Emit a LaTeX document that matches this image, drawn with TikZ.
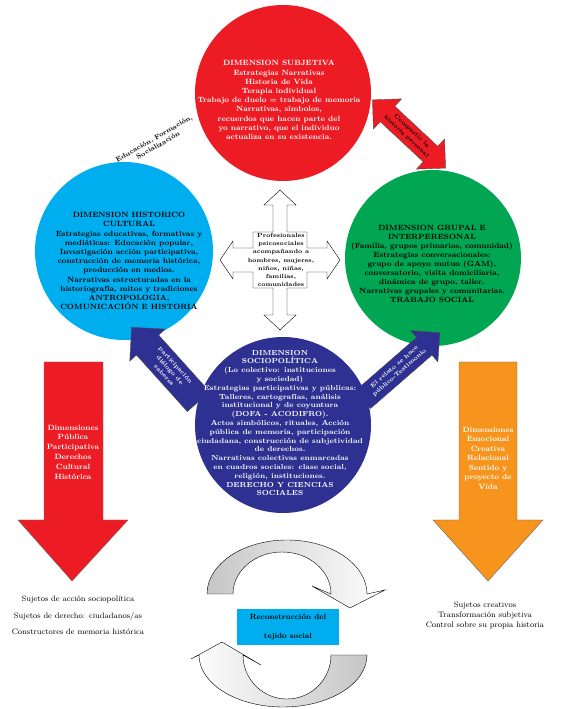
\documentclass[tikz,border=0pt]{standalone}
\usepackage{tikz}
\usetikzlibrary{positioning,shapes.arrows}
\definecolor{dimred}{RGB}{237,28,36}
\definecolor{dimcyan}{RGB}{0,174,239}
\definecolor{dimgreen}{RGB}{0,166,81}
\definecolor{dimnavy}{RGB}{46,49,146}
\definecolor{dimorange}{RGB}{247,148,29}
\newcommand{\dimfont}[2]{\fontsize{#1}{#2}\selectfont\bfseries}

\begin{document}
\begin{tikzpicture}[x=1pt, y=1pt,
  dimcircle/.style={circle, inner sep=0pt, minimum size=#1},
  dimlabel/.style={align=center, inner sep=0pt},
  bigarrow/.style={draw=black!60, line width=0.4pt},
  flowarrow/.style={draw=black, line width=0.4pt},
  linkarrow/.style={draw=black!70, line width=0.4pt, align=center, inner xsep=1pt, inner ysep=5pt}]
  \useasboundingbox (0,0) rectangle (560,709);

  % Circles
  \node[dimcircle=176, fill=dimred] (subj) at (283,616) {};
  \node[dimcircle=178, fill=dimcyan] (hist) at (124,458) {};
  \node[dimcircle=176, fill=dimgreen] (grup) at (433,451) {};

  % Links between dimensions (tails behind the sociopolitical circle)
  \node[linkarrow, single arrow, fill=dimnavy, text=white, rotate=-48, shape border rotate=180,
        minimum height=100, single arrow head extend=9, font={\dimfont{6}{7.6}}]
        (partlink) at (170,339) {participación\\diálogo de\\saberes};
  \node[linkarrow, single arrow, fill=dimnavy, text=white, rotate=41,
        minimum height=102, single arrow head extend=9, font={\dimfont{6}{7.6}}]
        (rellink) at (397,339) {El relato se hace\\público-Testimonio};

  \node[dimcircle=176, fill=dimnavy] (socio) at (283,284) {};

  % Circle texts
  \node[dimlabel, text=white, font={\dimfont{7.6}{9.2}}] (subjtext) at (279,609) {%
    DIMENSION SUBJETIVA\\Estrategias Narrativas\\Historia de Vida\\Terapia individual\\
    Trabajo de duelo = trabajo de memoria\\Narrativas, símbolos,\\recuerdos que hacen parte del\\
    yo narrativo, que el individuo\\actualiza en su existencia.};
  \node[dimlabel, font={\dimfont{7.6}{9.2}}] (histtext) at (129,448) {%
    DIMENSION HISTORICO\\CULTURAL\\Estrategias educativas, formativas y\\
    mediáticas: Educación popular,\\Investigación acción participativa,\\
    construcción de memoria histórica,\\producción en medios.\\Narrativas estructuradas en la\\
    historiografía, mitos y tradiciones\\ANTROPOLOGIA,\\COMUNICACIÓN E HISTORIA};
  \node[dimlabel, font={\dimfont{7.6}{9}}] (gruptext) at (432,445) {%
    DIMENSION GRUPAL E\\INTERPERESONAL\\(Familia, grupos primarios, comunidad)\\
    Estrategias conversacionales:\\grupo de apoyo mutuo (GAM),\\conversatorio, visita domiciliaria,\\
    dinámica de grupo, taller.\\Narrativas grupales y comunitarias.\\TRABAJO SOCIAL};
  \node[dimlabel, text=white, font={\dimfont{7.3}{8.8}}] (sociotext) at (280,286) {%
    DIMENSION\\SOCIOPOLÍTICA\\(Lo colectivo: instituciones\\y sociedad)\\
    Estrategias participativas y públicas:\\Talleres, cartografías, análisis\\
    institucional y de coyuntura\\(DOFA - ACODIFRO).\\Actos simbólicos, rituales, Acción\\
    pública de memoria, participación\\ciudadana, construcción de subjetividad\\de derechos.\\
    Narrativas colectivas enmarcadas\\en cuadros sociales: clase social,\\religión, instituciones.\\
    DERECHO Y CIENCIAS\\SOCIALES};

  % Central four-way arrow
  \draw[flowarrow, fill=white, shift={(280,449)}]
    (0,70) -- (16,55) -- (7,55) -- (7,28) -- (27,28) -- (27,12) -- (47,12) -- (47,19) -- (60,0)
    -- (47,-19) -- (47,-12) -- (27,-12) -- (27,-28) -- (7,-28) -- (7,-55) -- (16,-55) -- (0,-70)
    -- (-16,-55) -- (-7,-55) -- (-7,-28) -- (-27,-28) -- (-27,-12) -- (-47,-12) -- (-47,-19)
    -- (-60,0) -- (-47,19) -- (-47,12) -- (-27,12) -- (-27,28) -- (-7,28) -- (-7,55) -- (-16,55) -- cycle;
  \node[dimlabel, font={\dimfont{6}{8.3}}] (prof) at (281,449) {%
    Profesionales\\psicosociales\\acompañando a\\hombres, mujeres,\\niños, niñas,\\familias,\\comunidades};

  % Link between subjective and group dimensions
  \node[linkarrow, double arrow, fill=dimred, rotate=-43, minimum height=100,
        inner ysep=4pt, double arrow head extend=10, font={\dimfont{5.8}{7.6}}]
        (sharelink) at (409,575) {Compartir la\\historia personal};
  \node[dimlabel, rotate=30, font={\dimfont{6.8}{7.8}}] (edu) at (156,567) {Educación, Formación,\\Socialización};

  % Big downward arrows
  \draw[bigarrow, fill=dimred] (44,347) -- (103,347) -- (103,189) -- (128,189) -- (72,128)
    -- (18,189) -- (44,189) -- cycle;
  \draw[bigarrow, fill=dimorange] (459,347) -- (517,347) -- (517,189) -- (543,189) -- (488,128)
    -- (433,189) -- (459,189) -- cycle;
  \node[dimlabel, text=white, font={\dimfont{7.6}{9.8}}] (pubdim) at (73,257) {%
    Dimensiones\\Pública\\Participativa\\Derechos\\Cultural\\Histórica};
  \node[dimlabel, text=white, font={\dimfont{7.6}{9.5}}] (emodim) at (488,251) {%
    Dimensiones\\Emocional\\Creativa\\Relacional\\Sentido y\\proyecto de\\Vida};

  % Subjects
  \node[dimlabel, font=\fontsize{8}{10}\selectfont] (sujleft1) at (78,109) {Sujetos de acción sociopolítica};
  \node[dimlabel, font=\fontsize{8}{10}\selectfont, below=8pt of sujleft1] (sujleft2) {Sujetos de derecho: ciudadanos/as};
  \node[dimlabel, font=\fontsize{8}{10}\selectfont, below=8pt of sujleft2] (sujleft3) {Constructores de memoria histórica};
  \node[dimlabel, align=center, font=\fontsize{8}{10}\selectfont] (sujright) at (485,94) {%
    Sujetos creativos\\Transformación subjetiva\\Control sobre su propia historia};

  % Cycle of reconstruction
  \draw[flowarrow, left color=gray!45, right color=white]
    (207,115) arc[start angle=180, end angle=0, x radius=80, y radius=54]
    -- (385,119) -- (350,101) -- (312,123) -- (331,115)
    arc[start angle=0, end angle=180, x radius=49, y radius=42] -- cycle;
  \draw[flowarrow, left color=white, right color=gray!45]
    (367,54) arc[start angle=0, end angle=-180, x radius=84, y radius=52]
    -- (191,50) -- (222,67) -- (261,44) -- (243,54)
    arc[start angle=180, end angle=360, x radius=44, y radius=44] -- cycle;
  \node[dimlabel, fill=dimcyan, minimum width=102, minimum height=36,
        font={\dimfont{7.5}{19}}] (tejido) at (288,82) {Reconstrucción del\\tejido social};
\end{tikzpicture}
\end{document}
